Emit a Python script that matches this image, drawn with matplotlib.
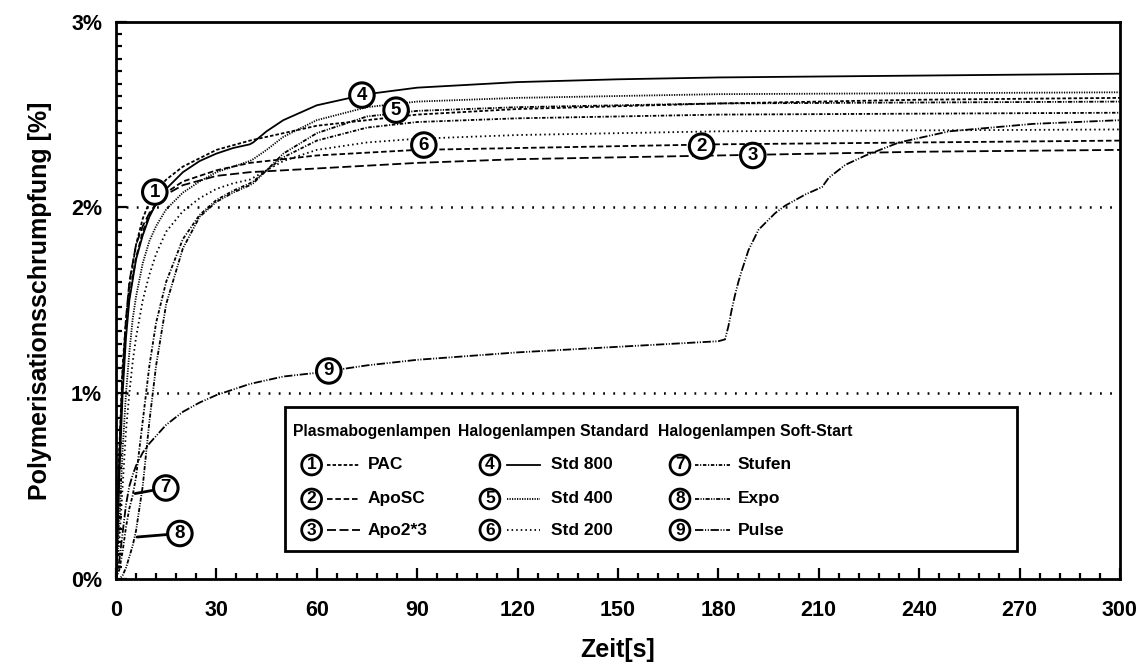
import matplotlib
matplotlib.use('Agg')
import matplotlib.pyplot as plt
from matplotlib.ticker import MultipleLocator, FuncFormatter
from matplotlib.patches import Rectangle

plt.rcParams['font.family'] = ['Liberation Sans', 'DejaVu Sans']
plt.rcParams['font.weight'] = 'bold'
plt.rcParams['axes.labelweight'] = 'bold'
plt.rcParams['lines.scale_dashes'] = False

# ---------- data (time in s, shrinkage in %) ---------- #
t_fast = [0, 0.5, 1, 2, 3, 4, 6, 8, 10, 12, 15, 20, 30, 40, 60, 90, 120, 180, 240, 300]
pac = [0, 0.35, 0.7, 1.15, 1.4, 1.58, 1.8, 1.94, 2.03, 2.09, 2.15, 2.22, 2.31, 2.36,
       2.44, 2.50, 2.53, 2.56, 2.58, 2.59]
aposc = [0, 0.3, 0.65, 1.1, 1.35, 1.52, 1.73, 1.87, 1.96, 2.02, 2.08, 2.14, 2.20, 2.24,
         2.28, 2.31, 2.32, 2.34, 2.35, 2.36]
apo23 = [0, 0.3, 0.65, 1.1, 1.4, 1.6, 1.8, 1.9, 1.97, 2.02, 2.07, 2.12, 2.17, 2.19,
         2.21, 2.24, 2.26, 2.28, 2.30, 2.31]

t_std = [0, 0.5, 1, 2, 3, 4, 6, 8, 10, 12, 15, 20, 25, 30, 35, 40, 41, 45, 50, 60,
         75, 90, 120, 150, 180, 240, 300]
std800 = [0, 0.25, 0.55, 1.0, 1.3, 1.5, 1.72, 1.85, 1.95, 2.02, 2.1, 2.19, 2.25, 2.29,
          2.32, 2.34, 2.35, 2.41, 2.47, 2.55, 2.61, 2.645, 2.675, 2.69, 2.70, 2.71, 2.72]

t_slow = [0, 1, 2, 3, 4, 5, 6, 8, 10, 12, 15, 20, 25, 30, 35, 40, 41, 45, 50, 60,
          75, 90, 120, 150, 180, 240, 300]
std400 = [0, 0.3, 0.7, 1.0, 1.22, 1.4, 1.52, 1.7, 1.82, 1.9, 1.99, 2.08, 2.14, 2.19,
          2.22, 2.25, 2.26, 2.31, 2.38, 2.47, 2.54, 2.57, 2.59, 2.60, 2.61, 2.615, 2.62]
std200 = [0, 0.2, 0.5, 0.8, 1.0, 1.17, 1.3, 1.5, 1.64, 1.75, 1.87, 1.98, 2.05, 2.1,
          2.13, 2.15, 2.16, 2.2, 2.25, 2.31, 2.35, 2.37, 2.39, 2.40, 2.41, 2.415, 2.42]
stufen = [0, 0.05, 0.15, 0.28, 0.38, 0.45, 0.55, 0.85, 1.15, 1.38, 1.6, 1.83, 1.96, 2.04,
          2.09, 2.13, 2.14, 2.2, 2.27, 2.36, 2.43, 2.46, 2.48, 2.49, 2.50, 2.505, 2.51]
expo = [0, 0.0, 0.02, 0.06, 0.12, 0.18, 0.26, 0.5, 0.85, 1.15, 1.48, 1.78, 1.95, 2.03,
        2.08, 2.12, 2.13, 2.2, 2.29, 2.40, 2.49, 2.52, 2.54, 2.55, 2.56, 2.565, 2.57]

t_pulse = [0, 1, 2, 3, 4, 5, 6, 8, 10, 15, 20, 25, 30, 40, 50, 60, 75, 90, 120, 150,
           180, 182, 183, 184, 185, 186, 187, 189, 192, 197, 200, 206, 211, 213, 218,
           224, 234, 249, 274, 300]
pulse = [0, 0.1, 0.25, 0.4, 0.5, 0.56, 0.61, 0.68, 0.73, 0.83, 0.9, 0.95, 0.99, 1.05,
         1.09, 1.11, 1.15, 1.18, 1.22, 1.25, 1.28, 1.29, 1.36, 1.45, 1.53, 1.6, 1.66,
         1.77, 1.88, 1.97, 2.01, 2.07, 2.11, 2.16, 2.23, 2.28, 2.35, 2.41, 2.45, 2.47]

# ---------- line styles ---------- #
styles = {
    'PAC': (0, (2.5, 1.5)),
    'ApoSC': (0, (4, 2)),
    'Apo2*3': (0, (6.5, 2.5)),
    'Std 800': '-',
    'Std 400': (0, (0.9, 0.9)),
    'Std 200': (0, (1.1, 2.2)),
    'Stufen': (0, (2.5, 1.2, 0.8, 1.2)),
    'Expo': (0, (3, 1, 0.8, 1, 0.8, 1)),
    'Pulse': (0, (6, 1.2, 0.8, 1.2, 0.8, 1.2)),
}

series = [
    ('PAC', t_fast, pac), ('ApoSC', t_fast, aposc), ('Apo2*3', t_fast, apo23),
    ('Std 800', t_std, std800), ('Std 400', t_slow, std400), ('Std 200', t_slow, std200),
    ('Stufen', t_slow, stufen), ('Expo', t_slow, expo), ('Pulse', t_pulse, pulse),
]

fig = plt.figure(figsize=(11.47, 6.64), dpi=100)
ax = fig.add_axes([0.1011, 0.128, 0.8753, 0.8393])

# ---------- reference lines ---------- #
for yv in (1, 2):
    ax.axhline(yv, color='black', lw=1.8, linestyle=(0, (1.3, 6)), zorder=1)

# ---------- curves ---------- #
for name, t, v in series:
    ax.plot(t, v, color='black', lw=1.3, linestyle=styles[name], zorder=2)

ax.set_xlim(0, 300)
ax.set_ylim(0, 3)
ax.xaxis.set_major_locator(MultipleLocator(30))
ax.xaxis.set_minor_locator(MultipleLocator(6))
ax.yaxis.set_major_locator(MultipleLocator(1))
ax.yaxis.set_minor_locator(MultipleLocator(1 / 15))
ax.yaxis.set_major_formatter(FuncFormatter(lambda v, p: '%d%%' % round(v)))
ax.tick_params(which='both', direction='in', width=1.6, labelsize=15.5)
ax.tick_params(which='major', length=8)
ax.tick_params(which='minor', length=4.5)
ax.tick_params(axis='x', pad=15)
ax.tick_params(axis='y', pad=10)
for sp in ax.spines.values():
    sp.set_linewidth(2)

ax.set_xlabel('Zeit[s]', fontsize=18, labelpad=12)
ax.set_ylabel('Polymerisationsschrumpfung [%]', fontsize=18, labelpad=14)

# ---------- circled curve labels ---------- #
circ = dict(boxstyle='circle,pad=0.2', fc='white', ec='black', lw=2.2)
labels = [('1', 11.6, 2.083), ('2', 175, 2.33), ('3', 190.3, 2.28), ('4', 73.5, 2.605),
          ('5', 83.7, 2.524), ('6', 92, 2.336), ('9', 63.6, 1.12)]
for s, x, y in labels:
    ax.text(x, y, s, ha='center', va='center', fontsize=13.5, bbox=circ, zorder=5)
for s, x0, y0, x1, y1 in [('7', 5.7, 0.46, 14.9, 0.49), ('8', 6.3, 0.226, 19.1, 0.245)]:
    ax.annotate(s, xy=(x0, y0), xytext=(x1, y1), ha='center', va='center', fontsize=13.5,
                bbox=circ, zorder=5,
                arrowprops=dict(arrowstyle='-', lw=2, color='black', shrinkA=0, shrinkB=0))

# ---------- custom legend ---------- #
tr = ax.transAxes
ax.add_patch(Rectangle((0.1683, 0.0502), 0.7291, 0.2584, transform=tr, fc='white',
                       ec='black', lw=2, zorder=6))
heads = [('Plasmabogenlampen', 0.176), ('Halogenlampen Standard', 0.3406),
         ('Halogenlampen Soft-Start', 0.5398)]
for h, x in heads:
    ax.text(x, 0.2638, h, transform=tr, ha='left', va='center', fontsize=11.3, zorder=7)

rows_y = [0.2046, 0.1436, 0.0879]
cols = [(0.1949, 0.2099, 0.2430, 0.251), (0.3725, 0.3891, 0.4223, 0.4333),
        (0.5618, 0.5767, 0.6116, 0.6195)]
lcirc = dict(boxstyle='circle,pad=0.14', fc='white', ec='black', lw=2)
for i, (name, t, v) in enumerate(series):
    cx, lx0, lx1, tx = cols[i // 3]
    y = rows_y[i % 3]
    ax.text(cx, y, str(i + 1), transform=tr, ha='center', va='center', fontsize=12.5,
            bbox=lcirc, zorder=7)
    ax.plot([lx0, lx1], [y, y], transform=tr, color='black', lw=1.3,
            linestyle=styles[name], zorder=7)
    ax.text(tx, y, name, transform=tr, ha='left', va='center', fontsize=12.5, zorder=7)

fig.savefig('out.png', dpi=100)
